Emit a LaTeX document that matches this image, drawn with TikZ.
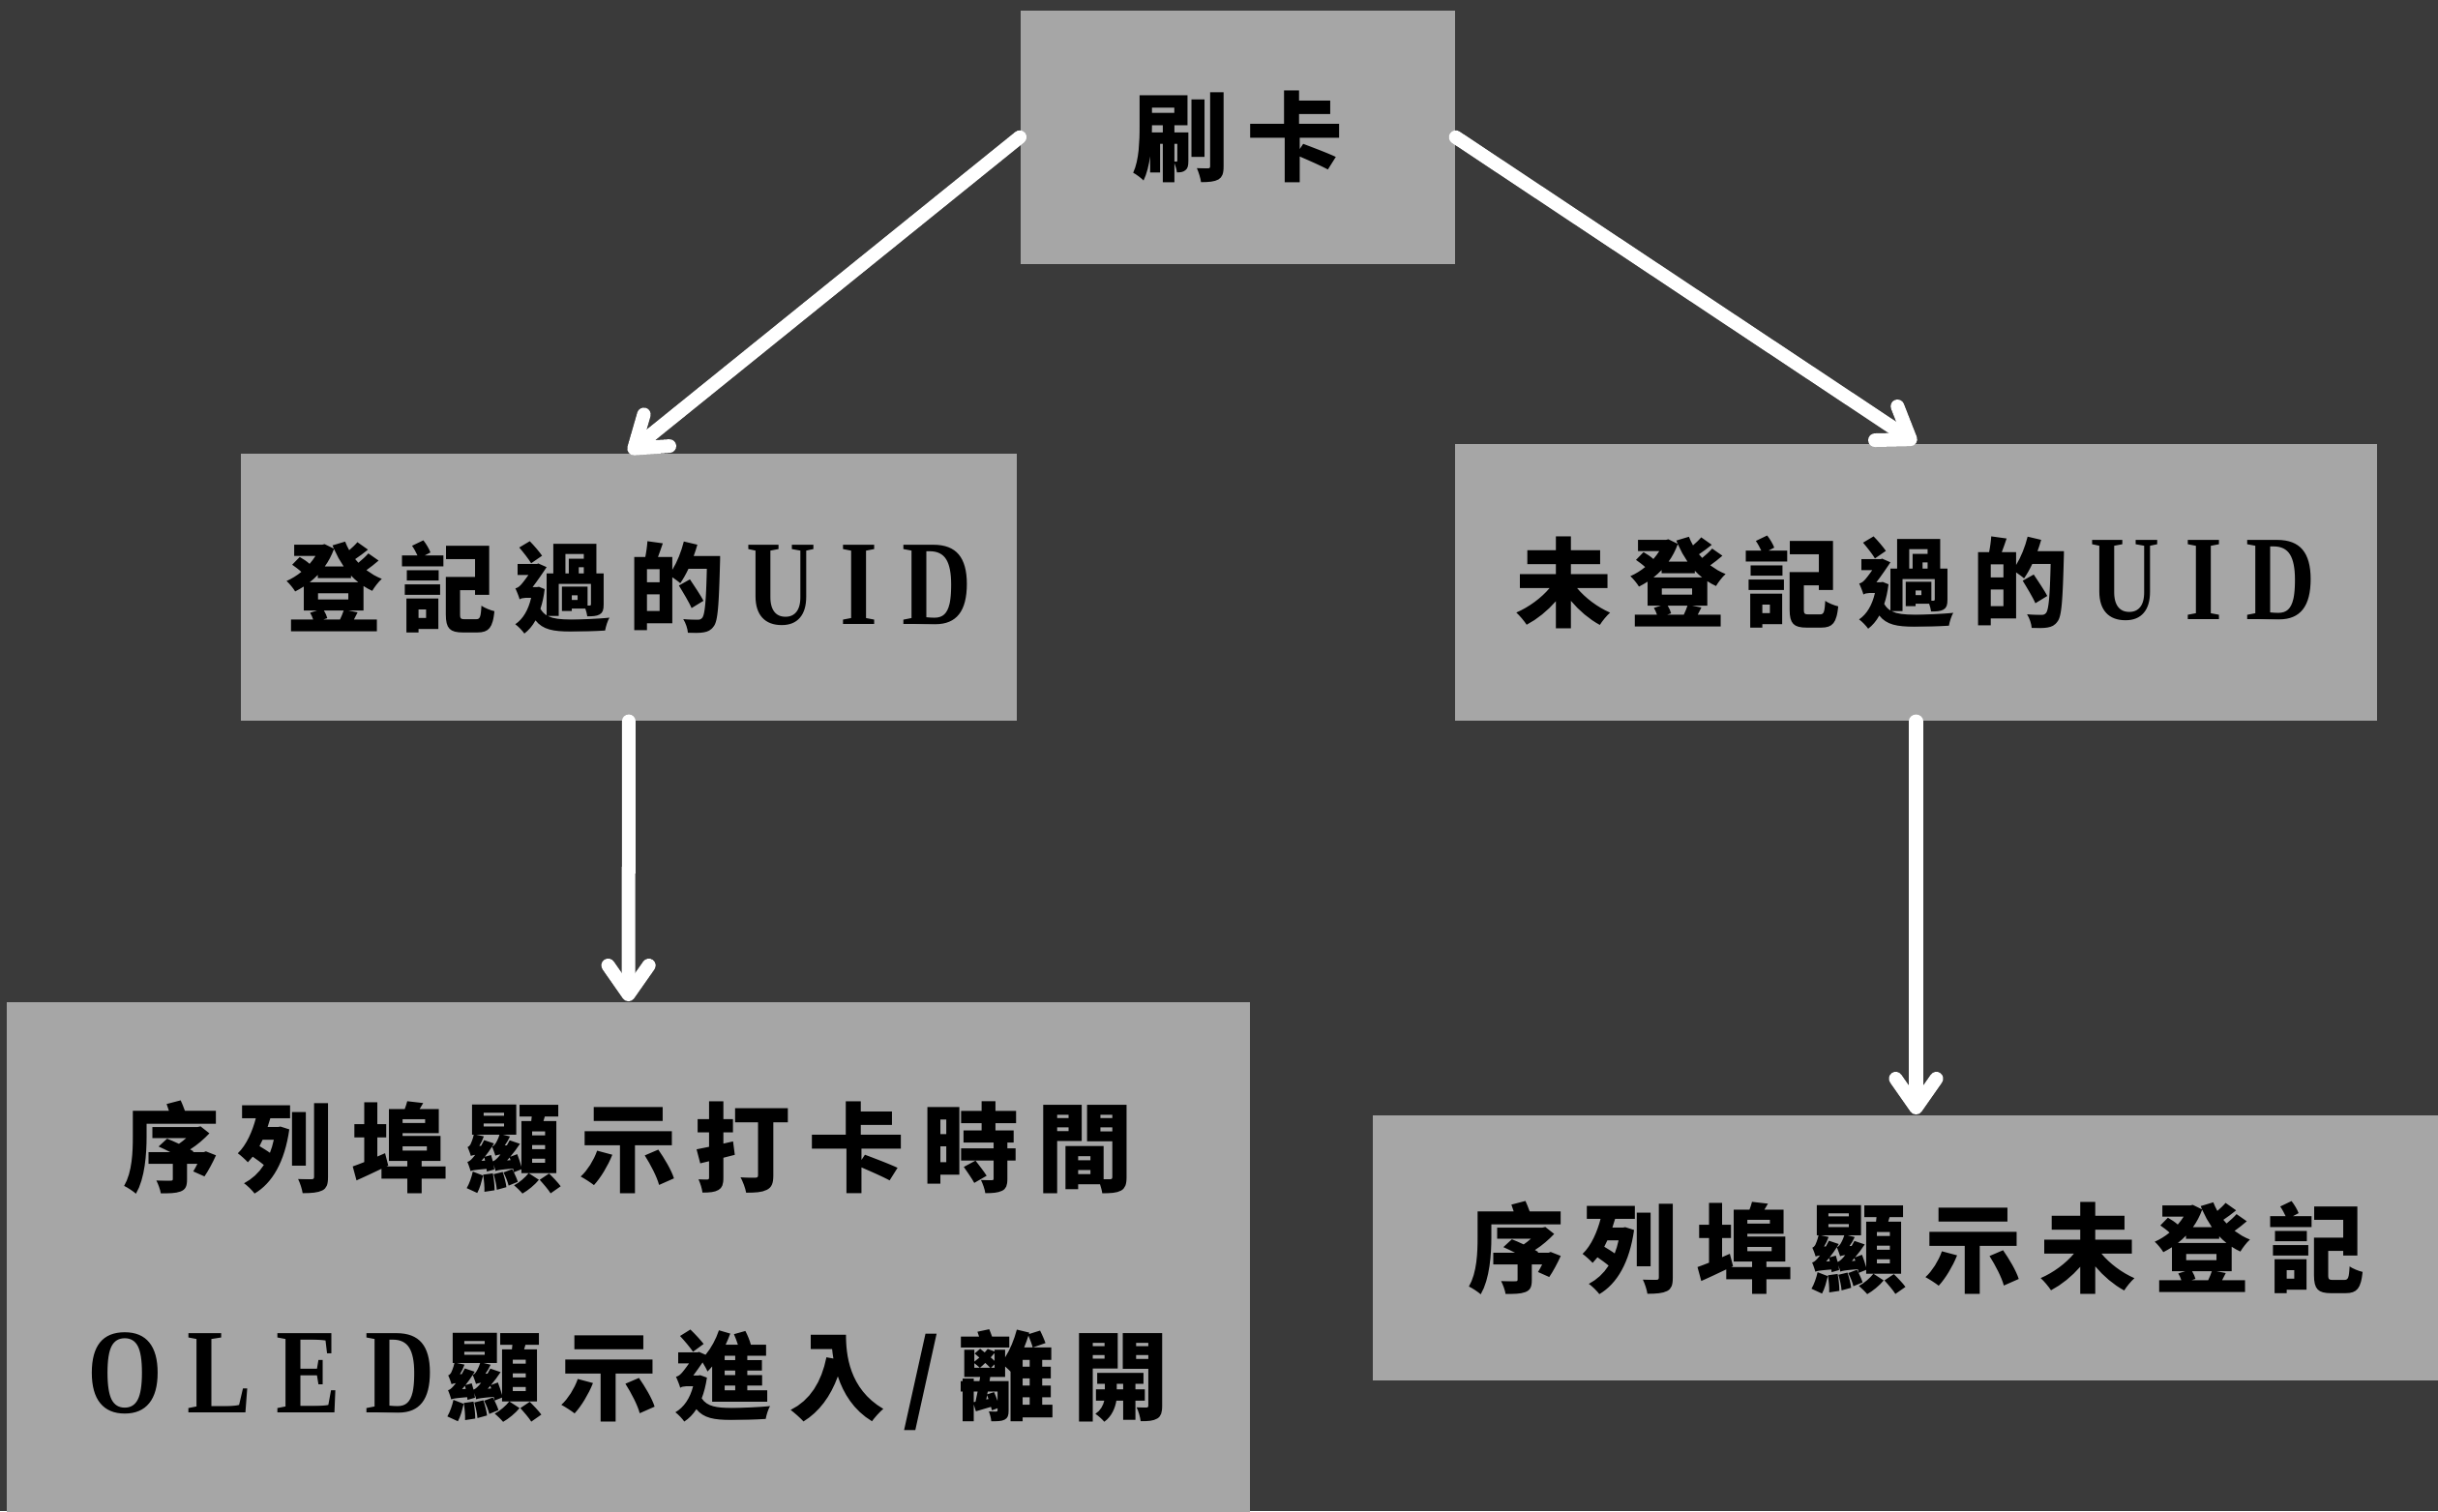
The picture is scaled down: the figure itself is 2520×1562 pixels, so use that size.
\documentclass[tikz,border=0pt]{standalone}
\usepackage{fontspec}
\usetikzlibrary{arrows.meta}
\newfontfamily\cjkf[LetterSpace=18]{Noto Sans CJK TC}
\newfontfamily\latf[Scale=1.25,FakeStretch=0.8,LetterSpace=20]{Liberation Serif}
\definecolor{bggray}{HTML}{3A3A3A}
\definecolor{boxgray}{HTML}{A6A6A6}
\begin{document}
\begin{tikzpicture}[x=0.01cm,y=-0.01cm,
  box/.style={fill=boxgray, draw=none, inner sep=0pt, anchor=north west,
    font=\cjkf\bfseries\fontsize{28.45}{67.1}\selectfont, text=black, align=center},
  arr/.style={draw=white, line width=0.14cm, line cap=round, line join=round,
    -{Straight Barb[length=3mm,width=4.2mm,round]}}]
\useasboundingbox (0,0) rectangle (2520,1562);
\fill[bggray] (0,0) rectangle (2520,1562);
\clip (0,0) rectangle (2520,1562);
\node[box, minimum width=4.49cm, minimum height=2.62cm] (top) at (1054,10) {刷卡};
\node[box, minimum width=8.02cm, minimum height=2.76cm] (lmid) at (248,468) {登記過的\hspace{0.22cm}{\latf UID}};
\node[box, minimum width=9.53cm, minimum height=2.86cm] (rmid) at (1503,458) {未登記過的\hspace{0.22cm}{\latf UID}};
\node[box, minimum width=12.85cm, minimum height=5.45cm] (bl) at (6,1035) {序列埠顯示打卡時間\\{\latf OLED}\hspace{0.12cm}顯示進入/離開};
\node[box, minimum width=11.24cm, minimum height=2.74cm] (br) at (1418,1152) {序列埠顯示未登記};
\draw[arr] (top.west) -- (lmid.north);
\draw[arr] (top.east) -- (rmid.north);
\draw[arr] (lmid.south) -- (bl.north);
\draw[arr] (rmid.south) -- (rmid.south |- br.north);
\end{tikzpicture}
\end{document}
